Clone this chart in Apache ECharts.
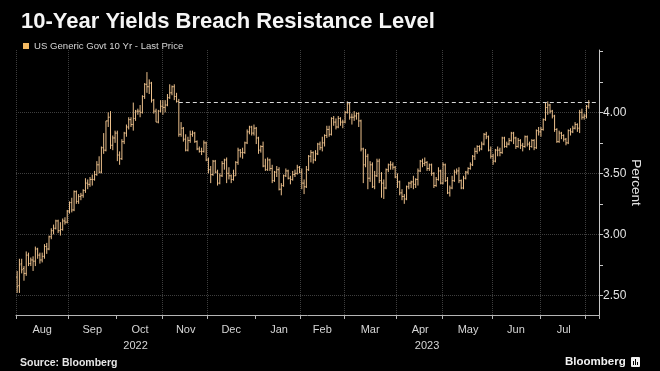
<!DOCTYPE html>
<html>
<head>
<meta charset="utf-8">
<script src="https://cdn.jsdelivr.net/npm/echarts@6/dist/echarts.min.js"></script>
<style>
html,body{margin:0;padding:0;background:#000;}
#chart{width:660px;height:371px;}
</style>
</head>
<body>
<div id="chart"></div>
<script>
// ---- categories: trading days per month ----
const months = ['2022-08','2022-09','2022-10','2022-11','2022-12','2023-01','2023-02','2023-03','2023-04','2023-05','2023-06','2023-07','2023-08'];
const daysByMonth = [
  [1,2,3,4,5,8,9,10,11,12,15,16,17,18,19,22,23,24,25,26,29,30,31],
  [1,2,6,7,8,9,12,13,14,15,16,19,20,21,22,23,26,27,28,29,30],
  [3,4,5,6,7,11,12,13,14,17,18,19,20,21,24,25,26,27,28,31],
  [1,2,3,4,7,8,9,10,14,15,16,17,18,21,22,23,25,28,29,30],
  [1,2,5,6,7,8,9,12,13,14,15,16,19,20,21,22,23,27,28,29,30],
  [3,4,5,6,9,10,11,12,13,17,18,19,20,23,24,25,26,27,30,31],
  [1,2,3,6,7,8,9,10,13,14,15,16,17,21,22,23,24,27,28],
  [1,2,3,6,7,8,9,10,13,14,15,16,17,20,21,22,23,24,27,28,29,30,31],
  [3,4,5,6,7,10,11,12,13,14,17,18,19,20,21,24,25,26,27,28],
  [1,2,3,4,5,8,9,10,11,12,15,16,17,18,19,22,23,24,25,26,30,31],
  [1,2,5,6,7,8,9,12,13,14,15,16,20,21,22,23,26,27,28,29,30],
  [3,5,6,7,10,11,12,13,14,17,18,19,20,21,24,25,26,27,28,31],
  [1,2,3,4,7,8]
];
const monthLabels = ['Aug','Sep','Oct','Nov','Dec','Jan','Feb','Mar','Apr','May','Jun','Jul',''];
const yearLabels = ['2022','2023'];
const monthsWithoutGrid = ['2022-10','2023-01'];

// ---- series values (US Generic Govt 10 Yr, OHLC) ----
const openPx = [
  2.65,2.58,2.76,2.72,2.68,2.83,2.76,2.79,2.78,2.88,2.83,2.79,2.82,2.90,2.88,2.98,3.03,3.05,3.11,3.03,3.04,3.11,3.10,
  3.19,3.26,3.20,3.35,3.27,3.31,3.32,3.36,3.42,3.41,3.45,3.45,3.49,3.57,3.51,3.71,3.69,3.93,3.96,3.73,3.79,
  3.83,3.65,3.62,3.76,3.83,3.88,3.94,3.90,3.95,4.01,4.01,4.00,4.13,4.23,4.21,4.24,4.10,4.01,3.92,4.01,
  4.05,4.04,4.06,4.12,4.16,4.21,4.13,4.09,3.82,3.87,3.78,3.69,3.77,3.82,3.83,3.76,3.70,3.68,3.68,3.75,
  3.61,3.53,3.49,3.60,3.51,3.42,3.48,3.58,3.61,3.50,3.48,3.45,3.48,3.59,3.69,3.67,3.67,3.75,3.84,3.88,3.83,
  3.87,3.79,3.69,3.72,3.56,3.53,3.61,3.54,3.44,3.51,3.53,3.37,3.40,3.48,3.52,3.46,3.45,3.49,3.50,3.55,
  3.51,3.42,3.39,3.53,3.64,3.67,3.61,3.66,3.74,3.71,3.75,3.81,3.86,3.82,3.95,3.92,3.88,3.95,3.92,
  3.92,4.00,4.07,3.96,3.96,3.97,3.99,3.93,3.70,3.57,3.64,3.46,3.57,3.39,3.48,3.60,3.44,3.42,3.38,3.53,3.57,3.57,3.55,
  3.47,3.43,3.34,3.31,3.29,3.39,3.42,3.43,3.41,3.45,3.52,3.60,3.58,3.59,3.54,3.57,3.50,3.40,3.45,3.52,
  3.42,3.57,3.44,3.34,3.38,3.44,3.51,3.52,3.44,3.38,3.46,3.51,3.54,3.57,3.64,3.68,3.72,3.70,3.74,3.82,3.80,3.69,
  3.64,3.60,3.69,3.69,3.67,3.79,3.72,3.74,3.77,3.83,3.79,3.72,3.77,3.73,3.72,3.80,3.74,3.72,3.77,3.71,3.85,
  3.84,3.86,3.94,4.04,4.06,4.01,3.97,3.86,3.76,3.83,3.81,3.78,3.75,3.85,3.84,3.87,3.90,3.87,4.00,3.96,
  3.97,4.05
];
const highPx = [
  2.70,2.80,2.80,2.74,2.86,2.85,2.81,2.82,2.90,2.89,2.85,2.85,2.92,2.93,2.99,3.05,3.08,3.12,3.12,3.10,3.13,3.14,3.20,
  3.27,3.30,3.36,3.36,3.33,3.34,3.37,3.46,3.45,3.47,3.49,3.52,3.60,3.64,3.72,3.83,3.93,4.00,4.01,3.81,3.85,
  3.85,3.68,3.78,3.84,3.90,3.96,3.96,4.08,4.02,4.03,4.06,4.14,4.24,4.33,4.27,4.25,4.11,4.03,4.02,4.10,
  4.10,4.10,4.15,4.23,4.22,4.23,4.16,4.11,3.92,3.88,3.82,3.80,3.85,3.85,3.84,3.77,3.72,3.71,3.77,3.76,
  3.63,3.56,3.61,3.61,3.53,3.50,3.60,3.62,3.63,3.55,3.49,3.53,3.60,3.71,3.70,3.71,3.76,3.86,3.89,3.89,3.90,
  3.88,3.80,3.73,3.76,3.62,3.63,3.62,3.57,3.52,3.56,3.55,3.42,3.49,3.54,3.53,3.48,3.52,3.53,3.57,3.56,
  3.54,3.45,3.56,3.65,3.69,3.68,3.69,3.75,3.76,3.80,3.82,3.89,3.89,3.96,3.97,3.95,3.97,3.96,3.94,
  4.01,4.09,4.08,3.99,4.01,4.00,4.00,3.94,3.71,3.70,3.66,3.60,3.59,3.52,3.62,3.62,3.51,3.45,3.54,3.58,3.60,3.59,3.56,
  3.50,3.44,3.37,3.33,3.40,3.43,3.44,3.48,3.46,3.54,3.61,3.62,3.63,3.60,3.58,3.58,3.51,3.47,3.55,3.53,
  3.59,3.58,3.47,3.40,3.48,3.53,3.54,3.55,3.45,3.48,3.52,3.55,3.59,3.65,3.71,3.73,3.73,3.76,3.83,3.84,3.81,3.72,
  3.66,3.70,3.72,3.71,3.80,3.80,3.76,3.79,3.84,3.84,3.80,3.79,3.78,3.75,3.81,3.81,3.76,3.78,3.78,3.86,3.88,
  3.88,3.95,4.08,4.09,4.07,4.02,3.98,3.87,3.85,3.84,3.82,3.79,3.86,3.87,3.89,3.92,3.91,4.02,4.03,3.99,
  4.06,4.10
];
const lowPx = [
  2.52,2.52,2.68,2.62,2.66,2.74,2.74,2.70,2.74,2.80,2.76,2.77,2.80,2.84,2.87,2.96,3.00,3.04,3.01,2.99,3.03,3.08,3.09,
  3.17,3.18,3.19,3.25,3.25,3.28,3.30,3.34,3.37,3.39,3.40,3.44,3.48,3.50,3.50,3.66,3.68,3.88,3.70,3.69,3.75,
  3.60,3.57,3.61,3.74,3.80,3.86,3.88,3.85,3.93,3.98,3.96,3.99,4.11,4.16,4.15,4.08,3.99,3.92,3.91,4.00,
  3.98,4.00,4.05,4.11,4.14,4.10,4.08,3.80,3.80,3.76,3.68,3.68,3.75,3.80,3.75,3.69,3.67,3.65,3.67,3.60,
  3.50,3.42,3.48,3.50,3.40,3.41,3.47,3.53,3.42,3.45,3.42,3.44,3.48,3.57,3.63,3.62,3.66,3.74,3.82,3.81,3.81,
  3.74,3.66,3.67,3.55,3.52,3.52,3.52,3.42,3.43,3.47,3.36,3.32,3.39,3.47,3.45,3.41,3.44,3.47,3.49,3.50,
  3.37,3.33,3.38,3.52,3.59,3.58,3.60,3.65,3.69,3.68,3.72,3.79,3.80,3.81,3.89,3.86,3.87,3.89,3.87,
  3.91,3.99,3.94,3.90,3.93,3.94,3.88,3.68,3.42,3.55,3.37,3.43,3.38,3.37,3.47,3.42,3.30,3.29,3.37,3.51,3.53,3.53,3.46,
  3.38,3.32,3.28,3.25,3.28,3.37,3.38,3.37,3.38,3.40,3.51,3.55,3.56,3.52,3.52,3.48,3.38,3.39,3.44,3.41,
  3.41,3.43,3.33,3.31,3.37,3.43,3.49,3.42,3.37,3.37,3.45,3.49,3.53,3.56,3.61,3.66,3.68,3.69,3.73,3.78,3.68,3.62,
  3.57,3.59,3.64,3.64,3.66,3.71,3.71,3.73,3.76,3.74,3.70,3.71,3.70,3.68,3.71,3.72,3.69,3.71,3.69,3.70,3.81,
  3.80,3.85,3.93,3.98,3.99,3.95,3.84,3.75,3.75,3.78,3.76,3.73,3.74,3.81,3.83,3.86,3.84,3.83,3.94,3.94,
  3.95,4.03
];
const closePx = [
  2.57,2.75,2.71,2.68,2.83,2.76,2.79,2.78,2.88,2.83,2.79,2.82,2.90,2.88,2.98,3.03,3.05,3.11,3.03,3.04,3.11,3.10,3.19,
  3.26,3.20,3.35,3.27,3.31,3.32,3.36,3.42,3.41,3.45,3.45,3.49,3.57,3.51,3.71,3.69,3.93,3.96,3.73,3.79,3.83,
  3.65,3.62,3.76,3.83,3.88,3.94,3.90,3.95,4.01,4.01,4.00,4.13,4.23,4.21,4.24,4.10,4.01,3.92,4.01,4.05,
  4.04,4.06,4.12,4.16,4.21,4.13,4.09,3.82,3.87,3.78,3.69,3.77,3.82,3.83,3.76,3.70,3.68,3.68,3.75,3.61,
  3.53,3.49,3.60,3.51,3.42,3.48,3.58,3.61,3.50,3.48,3.45,3.48,3.59,3.69,3.67,3.67,3.75,3.84,3.88,3.83,3.87,
  3.79,3.69,3.72,3.56,3.53,3.61,3.54,3.44,3.51,3.53,3.37,3.40,3.48,3.52,3.46,3.45,3.49,3.50,3.55,3.51,
  3.42,3.39,3.53,3.64,3.67,3.61,3.66,3.74,3.71,3.75,3.81,3.86,3.82,3.95,3.92,3.88,3.95,3.92,3.92,
  4.00,4.07,3.96,3.96,3.97,3.99,3.93,3.70,3.57,3.64,3.46,3.57,3.39,3.48,3.60,3.44,3.42,3.38,3.53,3.57,3.57,3.55,3.47,
  3.43,3.34,3.31,3.29,3.39,3.42,3.43,3.41,3.45,3.52,3.60,3.58,3.59,3.54,3.57,3.50,3.40,3.45,3.52,3.42,
  3.57,3.44,3.34,3.38,3.44,3.51,3.52,3.44,3.38,3.46,3.51,3.54,3.57,3.64,3.68,3.72,3.70,3.74,3.82,3.80,3.69,3.64,
  3.60,3.69,3.69,3.67,3.79,3.72,3.74,3.77,3.83,3.79,3.72,3.77,3.73,3.72,3.80,3.74,3.72,3.77,3.71,3.85,3.84,
  3.86,3.94,4.04,4.06,4.01,3.97,3.86,3.76,3.83,3.81,3.78,3.75,3.85,3.84,3.87,3.90,3.87,4.00,3.96,3.97,
  4.05,4.08
];

// ---- axis ticks / reference level ----
const yLabelValues = [2.5, 3.0, 3.5, 4.0];
const yTickValues = [2.5, 2.75, 3.0, 3.25, 3.5, 3.75, 4.0, 4.25, 4.5];
const resistanceLevel = 4.08;
const resistanceStart = '2022-11-10';
const seriesName = 'US Generic Govt 10 Yr - Last Price';

// ---- build categories ----
const categories = [];
const monthStartIdx = {};
const monthMidLabel = {};
const gridIdx = {};
months.forEach((m, mi) => {
  const days = daysByMonth[mi];
  const start = categories.length;
  days.forEach(d => categories.push(m + '-' + String(d).padStart(2, '0')));
  monthStartIdx[start] = true;
  if (monthsWithoutGrid.indexOf(m) < 0) gridIdx[start] = true;
  if (monthLabels[mi]) monthMidLabel[start + Math.floor(days.length / 2)] = monthLabels[mi];
});
const yearMidLabel = {};
yearLabels.forEach(y => {
  let first = -1, last = -1;
  categories.forEach((c, i) => { if (c.slice(0, 4) === y) { if (first < 0) first = i; last = i; } });
  yearMidLabel[Math.floor((first + last) / 2)] = y;
});
const ohlc = openPx.map((o, i) => [i, o, highPx[i], lowPx[i], closePx[i]]);

const barColor = '#ecc08c';
const legendColor = '#f3b962';
const textColor = '#d6d6d6';
const fontFam = 'Liberation Sans, Arial, sans-serif';

function renderOHLC(params, api) {
  const idx = api.value(0);
  const pO = api.coord([idx, api.value(1)]);
  const pH = api.coord([idx, api.value(2)]);
  const pL = api.coord([idx, api.value(3)]);
  const pC = api.coord([idx, api.value(4)]);
  const x = pO[0];
  const t = 1.0;
  const st = { stroke: barColor, lineWidth: 1 };
  return {
    type: 'group',
    children: [
      { type: 'line', shape: { x1: x, y1: pH[1], x2: x, y2: pL[1] }, style: st },
      { type: 'line', shape: { x1: x - t, y1: pO[1], x2: x, y2: pO[1] }, style: st },
      { type: 'line', shape: { x1: x, y1: pC[1], x2: x + t, y2: pC[1] }, style: st }
    ]
  };
}

const yMin = 2.339, yMax = 4.511;
const chart = echarts.init(document.getElementById('chart'), null, { renderer: 'canvas' });
chart.setOption({
  backgroundColor: '#000',
  animation: false,
  title: {
    text: '10-Year Yields Breach Resistance Level',
    left: 16, top: 6,
    textStyle: { color: '#f5f5f5', fontSize: 22, fontWeight: 'bold', fontFamily: fontFam }
  },
  legend: {
    data: [{ name: seriesName, icon: 'rect', itemStyle: { color: legendColor } }],
    left: 18, top: 36,
    itemWidth: 6, itemHeight: 6,
    textStyle: { color: textColor, fontSize: 9.6, fontFamily: fontFam },
    selectedMode: false
  },
  grid: { left: 16, right: 61, top: 50, bottom: 56 },
  xAxis: [{
    type: 'category',
    data: categories,
    boundaryGap: true,
    axisLine: { show: true, lineStyle: { color: '#b5b5b5', width: 1 } },
    axisTick: { show: true, length: 4, interval: (i) => !!monthStartIdx[i], lineStyle: { color: '#b5b5b5' } },
    axisLabel: {
      interval: (i) => monthMidLabel[i] !== undefined,
      formatter: (v, i) => monthMidLabel[i] || '',
      color: textColor, fontSize: 11, fontFamily: fontFam, margin: 9
    },
    splitLine: { show: true, interval: (i) => !!gridIdx[i], lineStyle: { color: '#3e3e3e', type: 'dotted', width: 1 } }
  }, {
    type: 'category',
    data: categories,
    position: 'bottom',
    boundaryGap: true,
    axisLine: { show: false }, axisTick: { show: false }, splitLine: { show: false },
    axisLabel: {
      interval: (i) => yearMidLabel[i] !== undefined,
      formatter: (v, i) => yearMidLabel[i] || '',
      color: textColor, fontSize: 11, fontFamily: fontFam, margin: 25
    }
  }],
  yAxis: [{
    type: 'value',
    position: 'right',
    min: yMin, max: yMax,
    axisLine: { show: true, lineStyle: { color: '#c8c8c8', width: 1 } },
    axisTick: { show: true, length: 4, customValues: yTickValues, lineStyle: { color: '#c8c8c8' } },
    axisLabel: { customValues: yLabelValues, formatter: (v) => v.toFixed(2), color: '#e2e2e2', fontSize: 12, fontFamily: fontFam, margin: 4 },
    splitLine: { show: false },
    name: 'Percent', nameLocation: 'middle', nameRotate: -90, nameGap: 30,
    nameMoveOverlap: false,
    nameTextStyle: { color: '#e2e2e2', fontSize: 13.5, fontFamily: fontFam }
  }, {
    type: 'value',
    position: 'left',
    min: yMin, max: yMax,
    axisLine: { show: false },
    axisTick: { show: false, customValues: yLabelValues },
    axisLabel: { show: false, customValues: yLabelValues },
    splitLine: { show: true, lineStyle: { color: '#3e3e3e', type: 'dotted', width: 1 } }
  }],
  series: [{
    name: seriesName,
    type: 'custom',
    xAxisIndex: 0, yAxisIndex: 0,
    itemStyle: { color: barColor },
    renderItem: renderOHLC,
    encode: { x: 0, y: [1, 2, 3, 4] },
    data: ohlc,
    clip: true,
    z: 3,
    markLine: {
      silent: true,
      symbol: 'none',
      label: { show: false },
      lineStyle: { color: '#d8d8d8', type: [4, 3], width: 1 },
      data: [[{ coord: [resistanceStart, resistanceLevel] }, { coord: [categories[categories.length - 1], resistanceLevel] }]]
    }
  }],
  graphic: [
    { type: 'text', left: 20, top: 358, style: { text: 'Source: Bloomberg', fill: '#e6e6e6', font: 'bold 10.5px ' + fontFam } },
    { type: 'text', left: 565, top: 356, style: { text: 'Bloomberg', fill: '#f2f2f2', font: 'bold 11.5px ' + fontFam } },
    { type: 'group', left: 631, top: 357, children: [
      { type: 'rect', shape: { x: 0, y: 0, width: 9, height: 10, r: 1 }, style: { fill: '#f2f2f2' } },
      { type: 'rect', shape: { x: 2, y: 4, width: 1, height: 4 }, style: { fill: '#000' } },
      { type: 'rect', shape: { x: 4, y: 2, width: 1, height: 6 }, style: { fill: '#000' } },
      { type: 'rect', shape: { x: 6, y: 5, width: 1, height: 3 }, style: { fill: '#000' } }
    ]}
  ]
});
</script>
</body>
</html>
